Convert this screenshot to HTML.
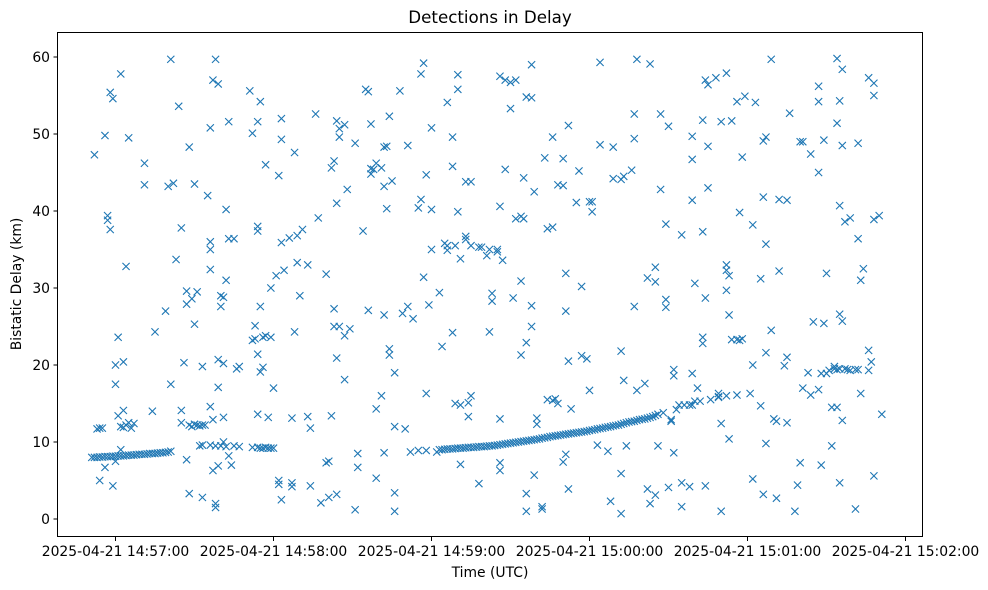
<!DOCTYPE html>
<html><head><meta charset="utf-8"><style>
html,body{margin:0;padding:0;background:#fff;}
svg{display:block;font-family:"DejaVu Sans","Liberation Sans",sans-serif;}
</style></head><body>
<svg id="chart" width="988" height="590" xmlns="http://www.w3.org/2000/svg">
<text x="490" y="23" text-anchor="middle" font-size="16.7">Detections in Delay</text>
<g id="marks"></g>
<rect x="57.5" y="32.5" width="865" height="504" fill="none" stroke="#000" stroke-width="1"/>
<g id="xaxis"></g>
<g id="yaxis"></g>
<text x="490" y="577" text-anchor="middle" font-size="13.9">Time (UTC)</text>
<text transform="translate(21,284) rotate(-90)" text-anchor="middle" font-size="13.9">Bistatic Delay (km)</text>
</svg>
<script>
// seconds relative to 2025-04-21 14:57:00 UTC, delay in km
const xTickSeconds = [0, 60, 120, 180, 240, 300];
const xTickLabels = ["2025-04-21 14:57:00","2025-04-21 14:58:00","2025-04-21 14:59:00","2025-04-21 15:00:00","2025-04-21 15:01:00","2025-04-21 15:02:00"];
const yTickValues = [0,10,20,30,40,50,60];
const track1Times = [-9,-8,-7,-6,-5,-4,-3,-2,-1,0,1,2,3,4,5,6,7,8,9,10,11,12,13,14,15,16,17,18,19,20,21];
const track1Km = [8.0,8.0,8.0,8.05,8.05,8.1,8.1,8.1,8.15,8.15,8.2,8.2,8.2,8.25,8.3,8.3,8.3,8.35,8.4,8.4,8.4,8.45,8.5,8.5,8.5,8.55,8.6,8.6,8.65,8.7,8.8];
const chainTimes = [33,36,38,40,42,45,47,52,54,55,56,57,58,59,60,-7,-6,-5,2,3,4,5,6,7,28,29,30,31,32,33,34];
const chainKm = [9.6,9.6,9.5,9.5,9.4,9.5,9.4,9.3,9.3,9.2,9.2,9.3,9.2,9.2,9.2,11.7,11.8,11.8,12.0,11.9,12.2,12.5,11.8,12.4,12.2,12.0,12.3,12.2,12.1,12.2,12.2];
const track2Times = [];
for (let t = 123; t <= 206; t++) track2Times.push(t);
const track2Km = [9.0,9.0,9.05,9.1,9.1,9.1,9.15,9.2,9.2,9.2,9.25,9.3,9.3,9.3,9.35,9.4,9.4,9.4,
9.45,9.5,9.5,9.55,9.6,9.65,9.7,9.75,9.8,9.85,9.9,9.95,10.0,
10.05,10.1,10.15,10.2,10.25,10.3,10.35,10.4,10.5,10.55,10.6,10.7,
10.75,10.8,10.85,10.9,10.95,11.0,11.05,11.1,11.15,11.2,11.25,11.3,11.35,11.4,11.5,11.55,11.6,11.7,
11.75,11.8,11.9,11.95,12.0,12.1,12.15,12.2,12.3,12.4,12.5,12.6,
12.65,12.7,12.8,12.9,12.95,13.0,13.1,13.2,13.3,13.45,13.6];
const tailTimes = [208,213,218,219,222,226,229,232,236,237,238,271,273,275,277,278,279,281,282];
const tailKm = [13.8,14.2,14.8,14.8,15.3,15.5,15.8,16.0,16.1,23.2,23.4,19.3,19.5,19.5,19.5,19.4,19.3,19.4,19.4];
const scatterPoints = [
[-8,47.3],[-6,5],[-4,6.7],[-4,49.8],[-3,38.8],[-3,39.4],[-2,37.6],[-2,55.4],[-1,54.6],[-1,4.3],[0,7.5],[0,20],[0,17.5],[1,13.4],[1,23.6],[2,57.8],[2,9],[3,20.4],[3,14.1],[4,32.8],[5,49.5],[11,46.2],[11,43.4],[14,14],[15,24.3],[19,27],[20,43.2],[21,59.7],[21,17.5],[22,43.6],[23,33.7],[24,53.6],[25,37.8],[25,12.5],[25,14.1],[26,20.3],[27,29.6],[27,7.7],[27,27.9],[28,48.3],[28,3.3],[29,28.6],[30,43.5],[30,25.3],[31,29.5],[32,9.5],[33,2.8],[33,19.8],[35,42],[36,35],[36,36],[36,32.4],[36,50.8],[36,14.6],[37,6.3],[37,12.9],[37,57],[38,1.5],[38,2],[38,59.7],[39,56.5],[39,20.7],[39,17.1],[39,6.9],[40,29],[40,27.6],[41,28.8],[41,20.2],[41,13.2],[41,10],[42,31],[42,40.2],[43,51.6],[43,8.2],[43,36.4],[44,7],[45,36.4],[46,19.5],[47,19.8],[51,55.6],[52,23.2],[52,50.1],[53,25.1],[53,23.4],[54,51.6],[54,21.4],[54,37.4],[54,38.0],[54,13.6],[55,19.1],[55,27.6],[55,54.2],[56,23.6],[56,19.7],[57,46],[57,23.8],[58,13.2],[59,23.6],[59,30],[60,17],[61,31.6],[62,44.6],[62,4.5],[62,5],
[63,49.3],[63,35.9],[63,2.5],[63,52],[64,32.3],[66,36.5],[67,13.1],[67,4.2],[67,4.7],[68,24.3],[68,47.6],[69,33.3],[69,36.8],[70,29],[71,37.6],[73,13.3],[73,33],[74,4.3],[74,11.8],[76,52.6],[77,39.1],[78,2.1],[80,7.3],[80,31.8],[81,7.5],[81,2.8],[82,45.6],[82,13.4],[83,46.5],[83,25],[83,27.3],[84,51.7],[84,41],[84,3.2],[84,20.9],[85,49.6],[85,50.7],[85,25],[87,51.2],[87,23.8],[87,18.1],[88,42.8],[89,24.7],[91,48.8],[91,1.2],[92,8.5],[92,6.7],[94,37.4],[95,55.8],[96,55.5],[96,27.1],[97,45.5],[97,51.3],[97,44.8],[98,45.4],[99,46.2],[99,5.3],[99,14.3],[101,45.6],[101,16],[102,48.3],[102,8.6],[102,43.2],[102,26.5],[103,48.4],[103,40.3],[104,52.3],[104,22.1],[104,21.3],[105,43.9],[106,1],[106,3.4],[106,12],[106,19],[108,55.6],[109,26.7],[110,11.7],[111,27.6],[111,48.5],[112,8.7],[113,26],[115,40.4],[115,8.9],[116,57.8],[116,41.5],[117,59.2],[117,31.4],[118,44.7],[118,16.3],[118,8.9],[119,27.8],[120,40.2],[120,50.8],[120,35],[122,8.7],[123,29.4],[124,22.4],[125,35.8],[126,54.1],[126,35.5],[126,34.9],[128,24.2],[128,49.6],[128,45.8],[129,15],[129,35.5],[130,55.8],[130,39.9],[130,57.7],
[131,33.8],[131,14.8],[131,7.1],[133,43.8],[133,36.7],[133,36.3],[134,13.3],[134,15.1],[135,43.8],[135,35.5],[135,16],[138,35.3],[138,4.6],[139,35.3],[141,34.2],[142,35],[142,24.3],[143,28.3],[143,29.3],[145,34.7],[145,35],[146,40.6],[146,57.5],[146,7.3],[146,6.3],[146,13],[147,33.6],[148,57],[148,45.4],[150,53.3],[150,56.7],[151,28.7],[152,39],[152,57],[154,21.3],[154,30.9],[154,39.3],[155,44.3],[155,39],[156,54.8],[156,22.9],[156,3.3],[156,1],[158,54.7],[158,59],[158,25],[158,27.7],[159,42.5],[159,5.7],[160,13.1],[160,12.3],[162,1.3],[162,1.6],[163,46.9],[164,37.7],[164,15.5],[166,49.6],[166,37.9],[166,15.4],[167,15.6],[168,43.4],[168,15],[170,43.3],[170,46.8],[170,7.4],[171,31.9],[171,27],[171,8.4],[172,51.1],[172,20.5],[172,3.9],[173,14.3],[175,41.1],[176,45.2],[177,30.2],[177,21.2],[179,20.8],[180,41.2],[180,16.7],[181,39.9],[181,41.2],[183,9.6],[184,59.3],[184,48.6],
[187,8.8],[188,2.3],[189,48.3],[189,44.2],[192,21.8],[192,44.1],[192,0.7],[192,5.9],[193,44.5],[193,18],[194,9.5],[196,45.3],[197,52.6],[197,49.4],[197,27.6],[198,59.7],[198,16.7],[201,17.6],[202,31.3],[202,3.9],[203,2],[203,59.1],[205,32.7],[205,30.8],[205,3.1],[206,9.5],[207,52.6],[207,42.8],[209,28.5],[209,38.3],[209,27.5],[210,51],[210,4.1],[211,12.7],[211,12.9],[212,18.6],[212,8.6],[212,19.4],[214,14.8],[215,36.9],[215,1.6],[215,4.7],[216,14.8],[218,4.2],[219,49.7],[219,46.7],[219,41.4],[219,18.9],[220,30.6],[220,15.3],[221,17],[223,37.3],[223,22.8],[223,23.6],[223,51.8],[224,57],[224,28.7],[224,4.3],[225,48.4],[225,43],[225,56.4],[228,57.3],[229,15.9],[229,16.3],[230,51.6],[232,57.9],[230,1],[230,12.4],[232,29.7],[232,33],[232,32.3],[233,10.4],[233,31.6],[233,26.5],[234,51.7],[234,23.3],[236,23.3],[236,54.2],[237,39.8],[238,47],[239,54.9],[241,16.3],[242,5.2],[242,20],[242,38.2],[243,54.1],[245,31.2],[245,14.7],[246,41.8],[246,49.1],[246,3.2],[247,21.6],[247,49.6],[247,9.8],[247,35.7],[249,24.5],[249,59.7],[250,13],[251,2.7],[251,12.7],[252,41.5],[252,32.2],[254,19.9],[255,41.4],[255,21],[255,12.5],[256,52.7],[258,1],[259,4.4],[260,49],[260,7.3],[261,49],[261,17],[263,19],[264,47.4],[264,16.1],[265,25.6],[267,45],[267,56.2],[267,54.2],[267,16.8],[268,7],[268,18.9],[269,49.2],[269,25.4],[270,31.9],[270,18.9],[272,14.5],[272,9.5],[273,19.8],[274,59.8],[274,51.4],[274,14.5],[274,19.4],
[275,40.7],[275,54.3],[275,4.7],[275,26.6],[276,58.4],[276,48.5],[276,25.7],[276,12.8],[277,38.6],[279,39.1],[281,1.3],[282,36.4],[282,48.8],[283,31],[283,16.3],[284,32.5],[286,19.3],[286,57.3],[286,21.9],[287,20.4],[288,56.6],[288,55],[288,38.9],[288,5.6],[290,39.4],[291,13.6]
];

const NS = "http://www.w3.org/2000/svg";
const xScale = t => 115.5 + t * 158 / 60;
const yScale = km => 519 - km * 7.7;
const marks = document.getElementById('marks');
function addMark(t, km) {
  const x = xScale(t), y = yScale(km), s = 3.6;
  const p = document.createElementNS(NS, 'path');
  p.setAttribute('d', `M${x-s},${y-s}L${x+s},${y+s}M${x-s},${y+s}L${x+s},${y-s}`);
  p.setAttribute('stroke', '#1f77b4');
  p.setAttribute('stroke-width', '1.1');
  p.setAttribute('fill', 'none');
  
  
  marks.appendChild(p);
}
track1Times.forEach((t, i) => addMark(t, track1Km[i]));
chainTimes.forEach((t, i) => addMark(t, chainKm[i]));
track2Times.forEach((t, i) => addMark(t, track2Km[i]));
tailTimes.forEach((t, i) => addMark(t, tailKm[i]));
scatterPoints.forEach(p => addMark(p[0], p[1]));

const xa = document.getElementById('xaxis');
xTickSeconds.forEach((t, i) => {
  const x = xScale(t);
  const l = document.createElementNS(NS, 'line');
  l.setAttribute('x1', x); l.setAttribute('x2', x);
  l.setAttribute('y1', 537); l.setAttribute('y2', 541);
  l.setAttribute('stroke', '#000');
  
  
  xa.appendChild(l);
  const tx = document.createElementNS(NS, 'text');
  tx.setAttribute('x', x); tx.setAttribute('y', 556);
  tx.setAttribute('text-anchor', 'middle');
  tx.setAttribute('font-size', '13.9');
  tx.textContent = xTickLabels[i];
  
  
  xa.appendChild(tx);
});
const ya = document.getElementById('yaxis');
yTickValues.forEach(v => {
  const y = yScale(v);
  const l = document.createElementNS(NS, 'line');
  l.setAttribute('x1', 53.5); l.setAttribute('x2', 57.5);
  l.setAttribute('y1', y); l.setAttribute('y2', y);
  l.setAttribute('stroke', '#000');
  
  
  ya.appendChild(l);
  const tx = document.createElementNS(NS, 'text');
  tx.setAttribute('x', 50); tx.setAttribute('y', y + 5);
  tx.setAttribute('text-anchor', 'end');
  tx.setAttribute('font-size', '13.9');
  tx.textContent = String(v);
  
  
  ya.appendChild(tx);
});
</script>
</body></html>
